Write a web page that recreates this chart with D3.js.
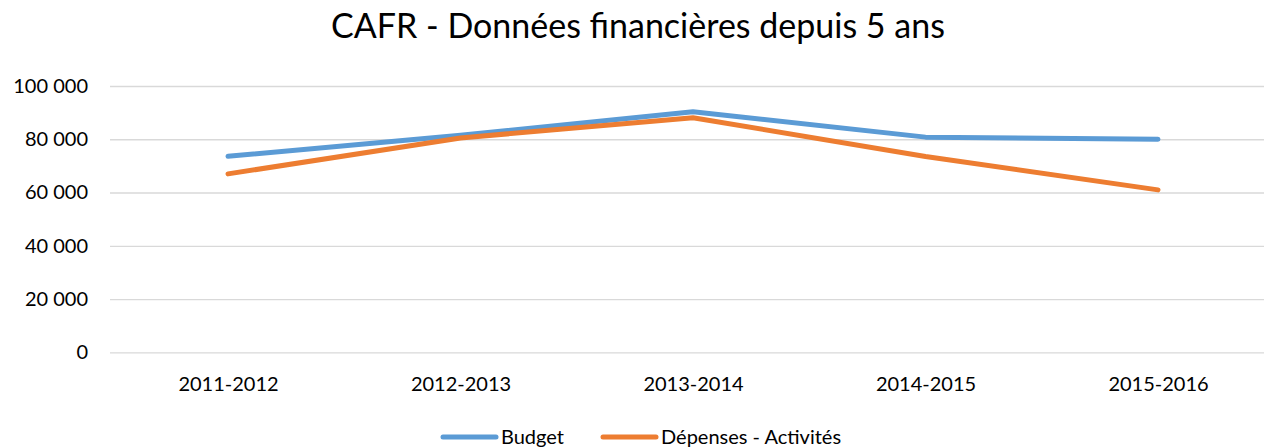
<!DOCTYPE html>
<html lang="fr">
<head>
<meta charset="UTF-8">
<title>CAFR</title>
<style>
  body { margin: 0; background: #fff; }
  text { font-family: Lato, "Open Sans", sans-serif; fill: #000; }
</style>
</head>
<body>
<script src="https://d3js.org/d3.v7.min.js"></script>
<script>
const categories = ["2011-2012", "2012-2013", "2013-2014", "2014-2015", "2015-2016"];
const budget = [73600, 81500, 90300, 80800, 80000];
const depenses = [67000, 80500, 88100, 73500, 61000];
const yTicks = [0, 20000, 40000, 60000, 80000, 100000];
const seriesNames = ["Budget", "Dépenses - Activités"];
const colors = ["#5b9bd5", "#ed7d31"];

const W = 1264, H = 448;
const svg = d3.select("body").append("svg").attr("width", W).attr("height", H);

const x = d3.scalePoint().domain(categories).range([228, 1158]);
const y = d3.scaleLinear().domain([0, 100000]).range([352.3, 86]);

// title
svg.append("text")
  .attr("x", 638).attr("y", 38)
  .attr("text-anchor", "middle")
  .style("font-size", "34px")
  .text("CAFR - Données financières depuis 5 ans");

// gridlines + y labels
const fmt = d => d3.format(",")(d).replace(/,/g, " ");
const yAxis = svg.append("g").attr("transform", "translate(110,0)")
  .call(d3.axisLeft(y).tickValues(yTicks).tickSize(-1160).tickFormat(fmt).tickPadding(22));
yAxis.select(".domain").remove();
yAxis.selectAll("line").attr("stroke", "#d9d9d9").attr("stroke-width", 1.3);
yAxis.selectAll("text").style("font-size", "20px").attr("fill", "#000");

// x labels
const xAxis = svg.append("g").attr("transform", "translate(0,352)")
  .call(d3.axisBottom(x).tickSize(0).tickPadding(25));
xAxis.select(".domain").remove();
xAxis.selectAll("text").style("font-size", "20px").attr("fill", "#000");

// lines
const line = d3.line().x((d, i) => x(categories[i])).y(d => y(d));
[budget, depenses].forEach((s, k) => {
  svg.append("path")
    .datum(s)
    .attr("fill", "none")
    .attr("stroke", colors[k])
    .attr("stroke-width", 5)
    .attr("stroke-linecap", "round")
    .attr("stroke-linejoin", "round")
    .attr("d", line);
});

// legend
const legendX = [443, 603];
seriesNames.forEach((name, k) => {
  const g = svg.append("g").attr("transform", `translate(${legendX[k]},437)`);
  g.append("line").attr("x1", 0).attr("x2", 53).attr("y1", 0).attr("y2", 0)
    .attr("stroke", colors[k]).attr("stroke-width", 5).attr("stroke-linecap", "round");
  g.append("text").attr("x", 58).attr("y", 7).style("font-size", "20px").text(name);
});
</script>
</body>
</html>
